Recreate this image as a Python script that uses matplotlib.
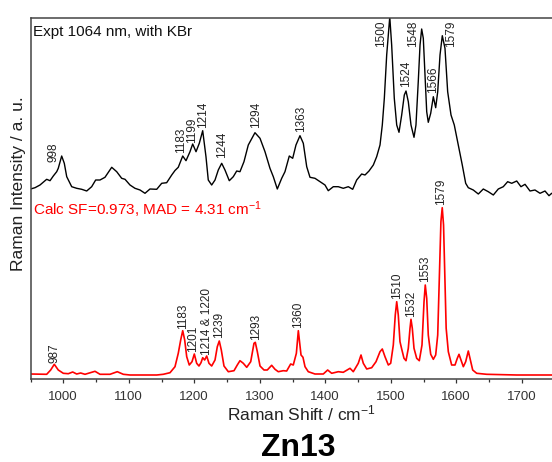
import numpy as np
import matplotlib
matplotlib.use("Agg")
import matplotlib.pyplot as plt
from matplotlib.ticker import MultipleLocator

plt.rcParams['font.family'] = ['Liberation Sans', 'DejaVu Sans']
plt.rcParams['mathtext.fontset'] = 'custom'
plt.rcParams['mathtext.rm'] = 'Liberation Sans'
plt.rcParams['mathtext.default'] = 'regular'

# experimental spectrum (traced), wavenumber / cm-1 and intensity / a.u.
expt_wn = [950, 956.9, 964.5, 974.7, 979.8, 984.8, 990, 992.4, 997.6, 1001.6,
           1005.3, 1012.9, 1020.5, 1028.2, 1035.8, 1043.4, 1049.5, 1056.1, 1063.7, 1074,
           1081.6, 1089.2, 1094.3, 1101.9, 1109.5, 1117.2, 1124.8, 1132.4, 1142.7, 1150.3,
           1157.9, 1165.6, 1170.6, 1175.6, 1182.4, 1187.4, 1193.5, 1197.6, 1202.7, 1207.7,
           1212.9, 1217.9, 1221.4, 1226.6, 1231.7, 1236.7, 1241.9, 1246.9, 1253.5, 1259.6,
           1264.8, 1269.8, 1275.9, 1282.5, 1292.7, 1300.4, 1308, 1315.6, 1320.7, 1326.8,
           1333.5, 1338.5, 1345.1, 1350.3, 1355.3, 1361.4, 1366.5, 1371.7, 1376.7, 1384.3,
           1392, 1399.6, 1404.6, 1412.3, 1419.9, 1427.5, 1435.2, 1441.9, 1448, 1455.6,
           1460.7, 1466.8, 1473.4, 1478.5, 1483.6, 1487.1, 1490.2, 1493.8, 1498.5, 1501.4,
           1505.4, 1509.1, 1512.6, 1516.7, 1520.7, 1523.3, 1526.8, 1530.9, 1535.5, 1538.5,
           1542, 1544.7, 1547.2, 1549.7, 1552.3, 1554.9, 1557.3, 1561, 1565, 1568.6,
           1571.7, 1575.2, 1578.7, 1582.8, 1586.9, 1592, 1597, 1603.1, 1609.2, 1614.4,
           1618.4, 1626, 1633.7, 1641.3, 1648.9, 1656.6, 1664.2, 1671.8, 1678.5, 1684.7,
           1692.3, 1698.8, 1705, 1712.6, 1720.2, 1727.9, 1735.5, 1741.6, 1745.7, 1750]
expt_int = [190, 191.3, 194, 199.7, 198.3, 203, 207.3, 210.7, 223, 215.7,
            202.3, 192.3, 190.7, 189.7, 188, 192.3, 199, 199, 201.7, 211.7,
            207.3, 200.7, 199.7, 194, 190.7, 189, 185.7, 190, 189.7, 195.7,
            196.3, 204, 208.5, 211.7, 223, 218.3, 227.3, 235, 227.3, 235.7,
            248.3, 222.3, 199, 194, 199, 209, 215.7, 209, 198.3, 202.3,
            208, 207.3, 217.3, 234, 246.3, 240.7, 227.3, 210.7, 202.3, 190,
            200.7, 207.3, 223, 220.7, 234, 243.3, 235.7, 212.3, 201.7, 200.7,
            197.3, 194, 188.3, 192.3, 192.3, 190.7, 192.3, 189.7, 199, 205,
            204, 208, 214, 222.3, 234, 254, 280.7, 324, 362, 334,
            280.7, 254, 246.7, 264, 284, 288, 277.3, 254, 241.7, 254,
            297.3, 334, 350, 340.7, 304, 267.3, 256.7, 265.7, 282.3, 271.3,
            287.3, 324, 343.3, 330.7, 287.3, 264, 254, 234, 214, 195.7,
            191.3, 189, 185, 190, 187.3, 184, 190, 192.3, 197.3, 195.7,
            198, 192.3, 194.7, 188, 189, 185.7, 188, 183.3, 185.7, 184]

# calculated spectrum (traced)
calc_wn = [950, 974.7, 980.8, 986.3, 992.4, 1000.1, 1007.7, 1014.4, 1020.5, 1026.6,
           1033.2, 1048.5, 1056.1, 1071.4, 1082.5, 1091.7, 1101.9, 1142.7, 1152.7, 1163,
           1170.6, 1175.6, 1179.3, 1182.4, 1185.4, 1188.5, 1192.4, 1196.6, 1200.1, 1203.7,
           1207.2, 1210.3, 1212.9, 1215.9, 1219, 1222.5, 1226.6, 1231.7, 1235.2, 1238.2,
           1241.3, 1245.4, 1252, 1260.7, 1265.7, 1269.8, 1274.9, 1280.1, 1286.2, 1291.2,
           1293.2, 1296.3, 1300.4, 1306.5, 1311.5, 1318.2, 1323.3, 1328.3, 1335.9, 1341.1,
           1347.2, 1351.2, 1355.9, 1358.9, 1361, 1363, 1366, 1369.1, 1374.1, 1384.3,
           1397, 1403.7, 1409.8, 1419.9, 1427.5, 1437.8, 1442.8, 1450.4, 1454.6, 1458.1,
           1463.3, 1470.9, 1477.5, 1483.6, 1487.1, 1491.2, 1496.3, 1499.9, 1503.9, 1506.9,
           1509.1, 1511.5, 1514.1, 1516.7, 1520.2, 1523.3, 1526.8, 1529.4, 1530.9, 1532.9,
           1535.5, 1539.6, 1543.6, 1547.7, 1550.8, 1552.7, 1554.9, 1557.3, 1561, 1565,
           1568.6, 1571.7, 1574.1, 1576.6, 1578.6, 1580.6, 1582.6, 1584.6, 1587.9, 1593,
           1598.1, 1601.6, 1604.2, 1607.2, 1610.8, 1614.4, 1618.4, 1622.1, 1625.1, 1631.2,
           1646.5, 1692.3, 1750]
calc_int = [5, 4.7, 9, 14.7, 9, 5.7, 5.3, 7, 5, 6,
            4.7, 7.7, 4.7, 4.7, 7.3, 4.7, 4, 4, 4.7, 6.3,
            12.3, 25.7, 39, 48.3, 39, 22.3, 14, 17.3, 25, 15.7,
            13, 16.3, 21.3, 19, 23, 15.7, 13, 19, 32.3, 38,
            29, 13, 7.3, 8.3, 14, 18.3, 15.7, 11.7, 17.3, 35.7,
            36.7, 27.3, 13, 9, 9, 13.7, 9.7, 7.3, 8.3, 8,
            15, 14, 25.7, 48.3, 36, 24, 21.7, 12.3, 7.3, 5,
            5, 9, 5.7, 7.3, 6.7, 10.7, 7.3, 15.7, 24, 15.7,
            10, 11.3, 17.3, 27.3, 30, 22.3, 14, 15.7, 34, 64,
            77.3, 64, 37.3, 30, 20.7, 18.3, 30.7, 50.7, 59.7, 50.7,
            30.7, 20.7, 18.3, 34, 77.3, 94, 80.7, 44, 24.7, 19.7,
            24, 44, 100.7, 157.3, 171.3, 154, 100.7, 50.7, 27.3, 14,
            14, 20.7, 24.7, 19, 12.3, 17.3, 28, 17.3, 9, 5.7,
            4.7, 4, 4]

# peak labels and where they sit (data coords, bottom of text)
expt_labels = ['998', '1183', '1199', '1214', '1244', '1294', '1363',
               '1500', '1524', '1548', '1566', '1579']
expt_label_x = [985, 1180, 1197, 1214, 1242, 1295, 1362.5,
                1484.5, 1524, 1533.5, 1564, 1591.5]
expt_label_y = [217, 226, 236, 251, 221, 251, 247,
                332, 292, 332, 286, 332]

calc_labels = ['987', '1183', '1201', '1214 & 1220', '1239', '1293', '1360',
               '1510', '1532', '1553', '1579']
calc_label_x = [987.4, 1182.4, 1198.6, 1219, 1238.2, 1294.3, 1358,
                1509, 1531, 1552.3, 1577]
calc_label_y = [16.3, 50, 27.3, 24, 40.7, 39, 50.7,
                80, 62.3, 96.7, 174]


def main():
    W, H = 552, 462
    fig = plt.figure(figsize=(W / 100, H / 100), dpi=100)
    ax = fig.add_axes([30.5 / W, (H - 379) / H, 524 / W, 361 / H])

    ax.plot(expt_wn, expt_int, color='black', lw=1.0)
    ax.plot(calc_wn, calc_int, color='#ff0000', lw=1.2)

    ax.set_xlim(950, 1750)
    ax.set_ylim(0, 361)

    ax.xaxis.set_major_locator(MultipleLocator(100))
    ax.xaxis.set_minor_locator(MultipleLocator(50))
    ax.tick_params(axis='x', which='major', direction='out', length=3,
                   width=0.9, pad=5.5, labelsize=9.5, colors='#333333')
    ax.tick_params(axis='x', which='minor', direction='out', length=2,
                   width=0.9, colors='#333333')
    ax.set_yticks([])
    for sp in ax.spines.values():
        sp.set_color('#444444')
        sp.set_linewidth(1.1)

    for t, x, y in zip(expt_labels, expt_label_x, expt_label_y):
        ax.text(x, y, t, rotation=90, ha='center', va='bottom',
                fontsize=8.5, color='#222222')
    for t, x, y in zip(calc_labels, calc_label_x, calc_label_y):
        ax.text(x, y, t, rotation=90, ha='center', va='bottom',
                fontsize=8.5, color='#222222')

    fig.text(33 / W, 1 - 36 / H, 'Expt 1064 nm, with KBr', fontsize=11,
             ha='left', va='baseline', color='#111111')
    fig.text(33 / W, 1 - 215 / H, 'Calc SF=0.973, MAD = 4.31 cm$^{-1}$',
             fontsize=11, ha='left', va='baseline', color='#ff0000')

    fig.text(19 / W, 1 - 184 / H, 'Raman Intensity / a. u.', rotation=90,
             ha='center', va='center', fontsize=12.5, color='#222222')
    fig.text(301 / W, 1 - 420 / H, 'Raman Shift / cm$^{-1}$',
             ha='center', va='baseline', fontsize=12.5, color='#222222')
    fig.text(298 / W, 1 - 456 / H, 'Zn13', ha='center', va='baseline',
             fontsize=23, fontweight='bold', color='black')

    fig.savefig('out.png', dpi=100)


if __name__ == "__main__":
    main()
